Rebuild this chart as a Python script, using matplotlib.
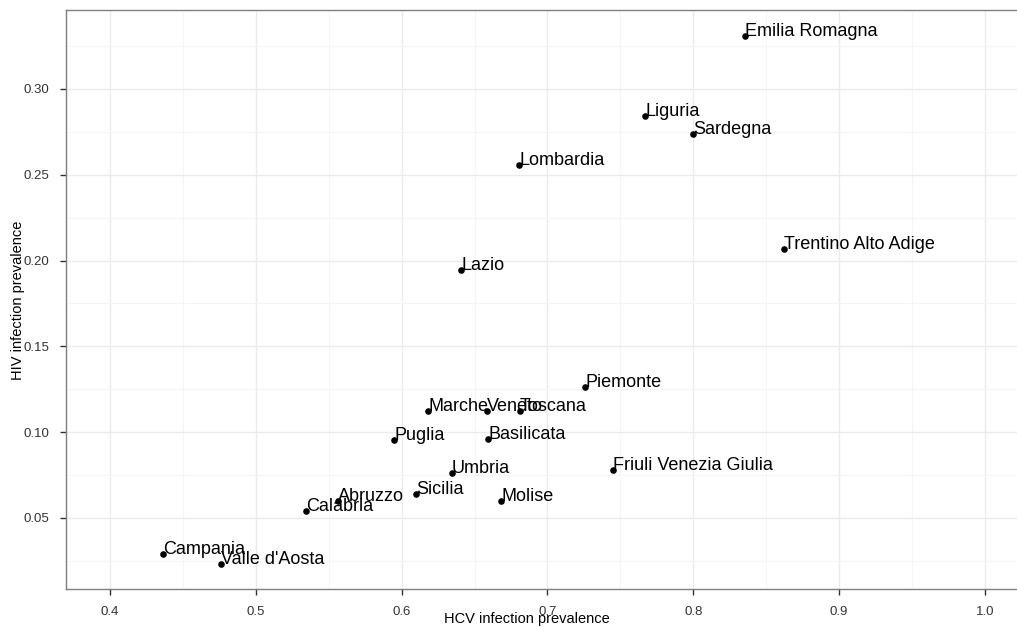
import numpy as np
import matplotlib.pyplot as plt
from matplotlib.ticker import MultipleLocator

plt.rcParams['font.family'] = ['Liberation Sans', 'DejaVu Sans']

regions = ["Emilia Romagna", "Liguria", "Sardegna", "Lombardia", "Trentino Alto Adige",
           "Lazio", "Piemonte", "Marche", "Veneto", "Toscana", "Basilicata", "Puglia",
           "Umbria", "Friuli Venezia Giulia", "Sicilia", "Molise", "Abruzzo", "Calabria",
           "Campania", "Valle d'Aosta"]
hcv = [0.8355, 0.767, 0.800, 0.6805, 0.8623,
       0.6407, 0.7258, 0.6181, 0.6586, 0.681, 0.6593, 0.5948,
       0.6346, 0.745, 0.6099, 0.6682, 0.5564, 0.5342,
       0.4364, 0.4763]
hiv = [0.3309, 0.2843, 0.2738, 0.2557, 0.2068,
       0.1945, 0.1263, 0.1124, 0.1124, 0.1124, 0.0960, 0.0955,
       0.0762, 0.0780, 0.0640, 0.0599, 0.0601, 0.0541,
       0.0290, 0.0234]

W, H = 1017, 627
fig = plt.figure(figsize=(W / 100, H / 100), dpi=100)
ax = fig.add_axes([66 / W, (H - 589) / H, (W - 66) / W, (589 - 10) / H])

ax.scatter(hcv, hiv, s=14, color='black', zorder=3)
for name, x, y in zip(regions, hcv, hiv):
    ax.text(x, y, name, ha='left', va='baseline', fontsize=13, color='black', zorder=4)

ax.set_xlim(0.3698, 1.022)
ax.set_ylim(0.0086, 0.346)
ax.xaxis.set_minor_locator(MultipleLocator(0.05))
ax.yaxis.set_minor_locator(MultipleLocator(0.025))
ax.set_xticks([0.4, 0.5, 0.6, 0.7, 0.8, 0.9, 1.0])
ax.set_xticklabels(['0.4', '0.5', '0.6', '0.7', '0.8', '0.9', '1.0'])
ax.set_yticks([0.05, 0.10, 0.15, 0.20, 0.25, 0.30])
ax.set_yticklabels(['0.05', '0.10', '0.15', '0.20', '0.25', '0.30'])

ax.grid(True, which='major', color='#ebebeb', linewidth=1.0, zorder=0)
ax.grid(True, which='minor', color='#f5f5f5', linewidth=0.8, zorder=0)
ax.set_axisbelow(True)

for side in ['left', 'bottom', 'top']:
    ax.spines[side].set_color('#7f7f7f')
    ax.spines[side].set_linewidth(1.0)
ax.spines['right'].set_visible(False)

ax.tick_params(which='major', direction='out', length=4, width=1, color='#333333',
               labelsize=9.5, labelcolor='#333333', pad=8)
ax.tick_params(which='minor', length=0)

ax.set_xlabel("HCV infection prevalence", fontsize=10.5)
ax.set_ylabel("HIV infection prevalence", fontsize=10.5)
ax.xaxis.set_label_coords((527 - 66) / 951, (589 - 619) / 579)
ax.yaxis.set_label_coords((18 - 66) / 951, (589 - 300) / 579)
ax.xaxis.label.set_va('center')
ax.yaxis.label.set_va('center')

fig.savefig('out.png', dpi=100)
